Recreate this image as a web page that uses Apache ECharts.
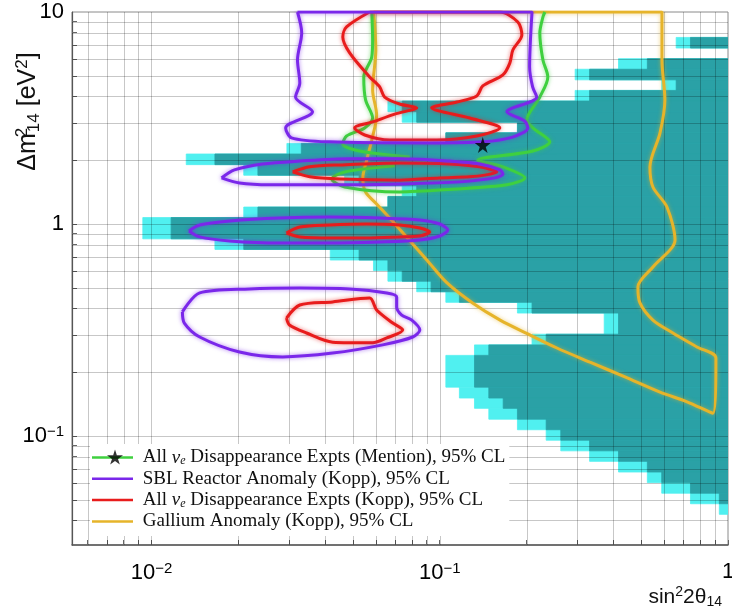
<!DOCTYPE html>
<html><head><meta charset="utf-8">
<script src="https://cdn.jsdelivr.net/npm/echarts@6/dist/echarts.min.js"></script>
<style>html,body{margin:0;padding:0;background:#fff}#c{width:732px;height:609px}</style>
</head><body><div id="c"></div>
<script>
// ---- axis ranges and tick values (data units) ----
const xRange = [0.0053, 1];
const yRange = [0.0306, 10];
const xLabelValues = [0.01, 0.1, 1];
const yLabelValues = [0.1, 1, 10];
const xGridValues = [0.006,0.007,0.008,0.009,0.01,0.02,0.03,0.04,0.05,0.06,0.07,0.08,0.09,0.1,0.2,0.3,0.4,0.5,0.6,0.7,0.8,0.9];
const yGridValues = [0.04,0.05,0.06,0.07,0.08,0.09,0.1,0.2,0.3,0.4,0.5,0.6,0.7,0.8,0.9,1,2,3,4,5,6,7,8,9];

// ---- shaded region rows: [dm2Low, dm2High, sin2Start(light), sin2Start(dark)], extends to sin2=1 ----
const excludedRows = [
  [6.761,7.586,0.661,0.741],
  [5.370,6.026,0.417,0.525],
  [4.786,5.370,0.295,0.331],
  [4.266,4.786,0.589,0.661],
  [3.802,4.266,0.295,0.331],
  [3.388,3.802,0.0661,0.0741],
  [3.020,3.388,0.0741,0.0832],
  [2.692,3.020,0.186,0.186],
  [2.399,2.692,0.105,0.105],
  [2.138,2.399,0.0295,0.0331],
  [1.905,2.138,0.0132,0.0166],
  [1.698,1.905,0.0209,0.0234],
  [1.514,1.698,0.0468,0.0525],
  [1.349,1.514,0.0741,0.0832],
  [1.202,1.349,0.0661,0.0661],
  [1.072,1.202,0.0209,0.0234],
  [0.851,1.072,0.00933,0.0117],
  [0.759,0.851,0.0166,0.0209],
  [0.676,0.759,0.0417,0.0525],
  [0.603,0.676,0.0589,0.0661],
  [0.537,0.603,0.0661,0.0741],
  [0.479,0.537,0.0832,0.0933],
  [0.427,0.479,0.105,0.117],
  [0.380,0.427,0.186,0.209],
  [0.302,0.380,0.372,0.417],
  [0.269,0.302,0.209,0.234],
  [0.240,0.269,0.132,0.148],
  [0.170,0.240,0.105,0.132],
  [0.151,0.170,0.117,0.148],
  [0.135,0.151,0.132,0.166],
  [0.120,0.135,0.148,0.186],
  [0.107,0.120,0.186,0.234],
  [0.0955,0.107,0.234,0.263],
  [0.0851,0.0955,0.263,0.331],
  [0.0759,0.0851,0.331,0.417],
  [0.0676,0.0759,0.417,0.525],
  [0.0603,0.0676,0.525,0.589],
  [0.0537,0.0603,0.589,0.741],
  [0.0479,0.0537,0.741,0.933],
  [0.0427,0.0479,0.933,1.0]
];

// ---- contours: [sin^2 2theta, dm2] ----
const mentionContourA = [[0.0581,10],[0.0585,7.38],[0.0581,6.13],[0.0545,4.94],[0.0553,3.85],[0.0585,3.16],[0.0549,2.84],[0.0475,2.60],[0.0461,2.39],[0.0527,2.21],[0.0787,2.07]];
const mentionContourB = [[0.0698,1.88],[0.0468,1.76],[0.0422,1.63],[0.0468,1.495],[0.0726,1.416],[0.1109,1.46],[0.171,1.53],[0.1973,1.65],[0.1656,1.86],[0.1355,2.00],[0.2104,2.21],[0.241,2.44],[0.2104,2.84],[0.2005,3.10],[0.2224,3.97],[0.2371,4.94],[0.228,5.94],[0.2224,7.96],[0.228,9.47],[0.2316,10]];
const mentionBestFit = [[0.141, 2.36]];

const reactorContour1 = [[0.0321,10],[0.0332,7.96],[0.0321,5.94],[0.0327,4.62],[0.0316,3.97],[0.0362,3.38],[0.0292,2.84],[0.0306,2.55],[0.0415,2.44],[0.0923,2.41],[0.141,2.44],[0.179,2.57],[0.202,2.84],[0.197,3.06],[0.171,3.38],[0.217,3.97],[0.210,4.43],[0.205,5.50],[0.209,10]];
const reactorContour2 = [[0.0175,1.65],[0.0194,1.80],[0.0243,1.92],[0.0327,1.98],[0.0487,2.03],[0.0726,2.03],[0.1083,1.98],[0.1377,1.92],[0.1616,1.80],[0.1656,1.72],[0.1552,1.65],[0.1173,1.58],[0.0726,1.545],[0.0415,1.53],[0.0257,1.53],[0.0202,1.56]];
const reactorContour3 = [[0.0135,0.927],[0.0147,0.989],[0.0187,1.033],[0.0278,1.067],[0.0415,1.079],[0.0619,1.067],[0.0853,1.044],[0.1,1.0],[0.1066,0.937],[0.1,0.878],[0.0853,0.841],[0.0619,0.823],[0.0415,0.813],[0.0278,0.813],[0.0187,0.832],[0.0147,0.869]];
const reactorContour4 = [[0.0128,0.385],[0.0147,0.473],[0.0219,0.494],[0.0327,0.499],[0.0487,0.494],[0.0655,0.473],[0.0709,0.453],[0.0709,0.406],[0.0738,0.372],[0.080,0.352],[0.0853,0.316],[0.0806,0.293],[0.0634,0.269],[0.0425,0.246],[0.0285,0.236],[0.0202,0.249],[0.0147,0.293],[0.013,0.341]];

const koppContour1 = [[0.0571,10],[0.0475,8.50],[0.0461,7.62],[0.0487,6.41],[0.0571,4.94],[0.0619,4.43],[0.0644,3.97],[0.0726,3.68],[0.0832,3.53],[0.0698,3.30],[0.0585,3.03],[0.0507,2.84],[0.0549,2.63],[0.067,2.49],[0.0977,2.49],[0.1344,2.60],[0.1616,2.84],[0.1271,3.16],[0.0938,3.53],[0.1146,3.76],[0.1344,4.02],[0.141,4.48],[0.1656,5.05],[0.175,5.74],[0.1793,6.62],[0.1927,7.79],[0.1866,8.97],[0.1616,10]];
const koppContour2 = [[0.0309,1.76],[0.0354,1.86],[0.045,1.90],[0.0726,1.94],[0.1083,1.92],[0.1377,1.86],[0.1578,1.76],[0.1433,1.70],[0.1271,1.67],[0.1,1.65],[0.0726,1.61],[0.045,1.63],[0.0354,1.67]];
const koppContour3 = [[0.0294,0.907],[0.0327,0.968],[0.0415,0.989],[0.0558,1.0],[0.0726,0.989],[0.0853,0.957],[0.0923,0.917],[0.0853,0.878],[0.0726,0.869],[0.0558,0.859],[0.0425,0.859],[0.0327,0.869]];
const koppContour4 = [[0.0294,0.36],[0.0327,0.415],[0.0425,0.429],[0.0571,0.448],[0.0604,0.393],[0.0687,0.341],[0.0744,0.316],[0.0655,0.29],[0.0585,0.275],[0.0425,0.277],[0.0345,0.306],[0.0301,0.334]];

const galliumContour = [[0.059,10],[0.060,6.62],[0.0585,4.29],[0.0604,3.27],[0.0581,2.49],[0.0558,2.00],[0.0541,1.65],[0.0553,1.416],[0.0604,1.243],[0.067,1.067],[0.0767,0.869],[0.0902,0.676],[0.106,0.527],[0.130,0.424],[0.162,0.352],[0.202,0.303],[0.255,0.260],[0.332,0.223],[0.439,0.190],[0.581,0.161],[0.721,0.145],[0.887,0.128],[0.908,0.233],[0.780,0.263],[0.644,0.306],[0.549,0.352],[0.495,0.424],[0.487,0.505],[0.549,0.627],[0.655,0.841],[0.614,1.203],[0.549,1.495],[0.536,1.857],[0.581,2.69],[0.604,3.85],[0.590,5.94],[0.590,10]];

const names = {
  mention: 'All νe Disappearance Expts (Mention), 95% CL',
  reactor: 'SBL Reactor Anomaly (Kopp), 95% CL',
  kopp: 'All νe Disappearance Expts (Kopp), 95% CL',
  gallium: 'Gallium Anomaly (Kopp), 95% CL',
  best: 'Best fit (Mention)'
};
const colors = {mention:'#3fd03f', reactor:'#7a27ea', kopp:'#e81c1c', gallium:'#e6b42a', dark:'#2aa1a6', light:'#50f0f0'};

// ---- helpers ----
const L = Math.log10;
const xMinL = L(xRange[0]), xMaxL = L(xRange[1]), yMinL = L(yRange[0]), yMaxL = L(yRange[1]);
function loops(list, close) {
  const out = [];
  list.forEach((pts, i) => {
    if (i) out.push(['-', '-']);
    pts.forEach(p => out.push([L(p[0]), L(p[1])]));
    if (close) out.push([L(pts[0][0]), L(pts[0][1])]);
  });
  return out;
}
const rowData = excludedRows.map(r => r.map(L));
const starPath = 'path://M50,0 L61,35 L98,35 L68,57 L79,91 L50,70 L21,91 L32,57 L2,35 L39,35 Z';

function rectSeries(col, idx) {
  return {
    type: 'custom', silent: true, clip: true, z: 1,
    encode: {x: idx, y: 0},
    data: rowData,
    renderItem: (params, api) => {
      const lo = api.value(0), hi = api.value(1), xs = api.value(idx);
      const a = api.coord([xs, hi]), b = api.coord([xMaxL, lo]);
      const w = b[0] - a[0];
      if (w <= 0.5) return null;
      return {type: 'rect', shape: {x: a[0], y: a[1], width: w, height: b[1] - a[1]},
        style: {fill: col, stroke: col, lineWidth: 0.8}};
    }
  };
}
function gridSeries(vertical) {
  const data = vertical ? xGridValues.map(v => [L(v), yMinL]) : yGridValues.map(v => [xMinL, L(v)]);
  return {
    type: 'custom', silent: true, clip: true, z: 2, data,
    renderItem: (params, api) => {
      let x1, y1, x2, y2;
      if (vertical) {
        const a = api.coord([api.value(0), yMinL]), b = api.coord([api.value(0), yMaxL]);
        x1 = x2 = Math.round(a[0]) + 0.5; y1 = a[1]; y2 = b[1];
      } else {
        const a = api.coord([xMinL, api.value(1)]), b = api.coord([xMaxL, api.value(1)]);
        y1 = y2 = Math.round(a[1]) + 0.5; x1 = a[0]; x2 = b[0];
      }
      return {type: 'line', shape: {x1, y1, x2, y2}, style: {stroke: 'rgba(0,0,0,0.22)', lineWidth: 1}};
    }
  };
}
function lineSeries(key, data) {
  const c = colors[key];
  return {
    type: 'line', name: names[key], data, color: c, showSymbol: false, symbol: 'none',
    smooth: 0.3, silent: true, z: 3, connectNulls: false, clip: true,
    lineStyle: {color: c, width: 3, shadowBlur: 4, shadowColor: c + '99'}
  };
}
function powLabel(v) {
  const e = Math.round(v);
  if (e === 0) return '{n|1}';
  if (e === 1) return '{n|10}';
  return '{n|10}{sup|−' + (-e) + '}';
}
const labelRich = {
  n: {fontFamily: 'Liberation Sans', fontSize: 22, color: '#000'},
  sup: {fontFamily: 'Liberation Sans', fontSize: 15, color: '#000', padding: [0, 0, 9, 0]}
};
const xNameRich = {
  n: {fontFamily: 'Liberation Sans', fontSize: 21, color: '#111'},
  sup: {fontFamily: 'Liberation Sans', fontSize: 14, color: '#111', padding: [0, 0, 10, 0]},
  sub: {fontFamily: 'Liberation Sans', fontSize: 14, color: '#111', padding: [10, 0, 0, 0]}
};
const yNameRich = {
  n: {fontFamily: 'Liberation Sans', fontSize: 25, color: '#111'},
  sup: {fontFamily: 'Liberation Sans', fontSize: 17, color: '#111', padding: [0, 0, 12, 0]},
  supz: {fontFamily: 'Liberation Sans', fontSize: 17, color: '#111', padding: [0, 0, 12, 0], width: 1},
  sub: {fontFamily: 'Liberation Sans', fontSize: 17, color: '#111', padding: [12, 0, 0, 0]}
};

const chart = echarts.init(document.getElementById('c'), null, {renderer: 'canvas'});
chart.setOption({
  animation: false,
  backgroundColor: '#fff',
  grid: {left: 72, right: 4, top: 12, bottom: 64, outerBoundsMode: 'none', containLabel: false,
         show: true, borderColor: '#8a8a8a', borderWidth: 1, backgroundColor: 'transparent'},
  xAxis: {
    type: 'value', min: xMinL, max: xMaxL,
    axisLine: {show: true, onZero: false, lineStyle: {color: '#555', width: 1.5}},
    axisTick: {show: true, inside: true, length: 5, customValues: xGridValues.concat([1]).map(L), lineStyle: {color: '#666'}},
    axisLabel: {customValues: xLabelValues.map(L), formatter: powLabel, rich: labelRich, margin: 16},
    splitLine: {show: false},
    name: '{n|sin}{sup|2}{n|2θ}{sub|14}',
    nameLocation: 'end', nameGap: -6, nameMoveOverlap: false,
    nameTextStyle: {align: 'right', verticalAlign: 'middle', padding: [104, 0, 0, 0], rich: xNameRich}
  },
  yAxis: {
    type: 'value', min: yMinL, max: yMaxL,
    axisLine: {show: true, onZero: false, lineStyle: {color: '#555', width: 1.2}},
    axisTick: {show: true, inside: true, length: 5, customValues: yGridValues.map(L), lineStyle: {color: '#666'}},
    axisLabel: {customValues: yLabelValues.map(L), formatter: powLabel, rich: labelRich, margin: 8},
    splitLine: {show: false},
    name: '{n|Δm}{supz|2}{sub|14}{n| [eV}{sup|2}{n|]}',
    nameLocation: 'middle', nameRotate: 90, nameGap: 29, nameMoveOverlap: false,
    nameTextStyle: {padding: [0, 0, 0, 334], rich: yNameRich}
  },
  legend: [{
    data: ['mention', 'reactor', 'kopp', 'gallium'].map(k => ({name: names[k], icon: 'rect'})),
    orient: 'vertical', left: 90, top: 444, itemWidth: 41, itemHeight: 2.5, itemGap: 0.3,
    backgroundColor: '#fff', padding: [3, 4, 4, 2], selectedMode: false, z: 6,
    formatter: n => ' ' + n.replace('νe', '{nu|ν}{sub|e}'),
    textStyle: {fontFamily: 'Liberation Serif', fontSize: 19, color: '#111', lineHeight: 21,
      rich: {nu: {fontFamily: 'Liberation Serif', fontStyle: 'italic', fontSize: 19, color: '#111'},
             sub: {fontFamily: 'Liberation Serif', fontStyle: 'italic', fontSize: 12, color: '#111', padding: [7, 0, 0, 0]}}}
  }, {
    data: [{name: names.best, icon: starPath}],
    left: 107, top: 449, itemWidth: 16, itemHeight: 16, padding: 0, selectedMode: false, z: 7,
    formatter: () => '', textStyle: {fontSize: 1}
  }],
  series: [
    rectSeries(colors.light, 2),
    rectSeries(colors.dark, 3),
    gridSeries(true),
    gridSeries(false),
    lineSeries('gallium', loops([galliumContour], true)),
    lineSeries('mention', loops([mentionContourA, mentionContourB], false)),
    lineSeries('kopp', loops([koppContour1, koppContour2, koppContour3, koppContour4], true)),
    lineSeries('reactor', loops([reactorContour1, reactorContour2, reactorContour3, reactorContour4], true)),
    {type: 'scatter', name: names.best, data: mentionBestFit.map(p => [L(p[0]), L(p[1])]),
     symbol: starPath, symbolSize: 16, itemStyle: {color: '#000'}, z: 5, silent: true}
  ]
});
</script></body></html>
